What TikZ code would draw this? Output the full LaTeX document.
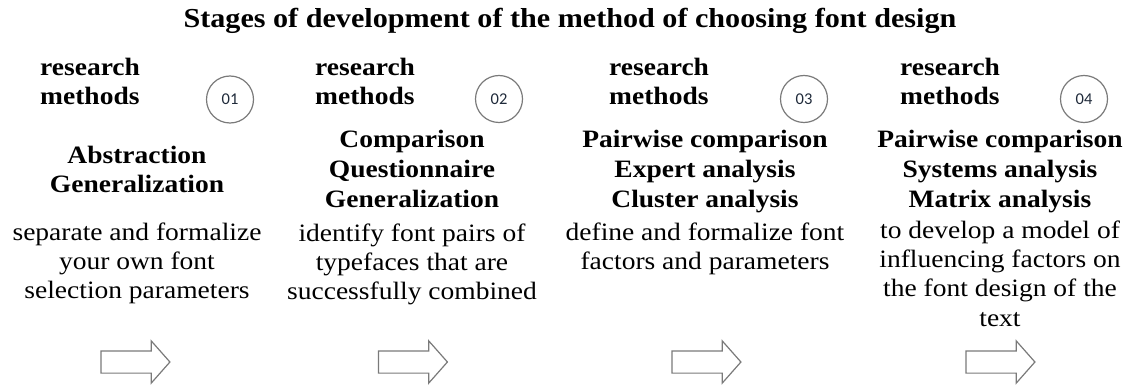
\documentclass[tikz,border=0pt]{standalone}
\usepackage{fontspec}
\setmainfont{Liberation Serif}[FakeStretch=1.1]
\newfontfamily\numfont{Carlito}
\usetikzlibrary{shapes.arrows}
\definecolor{linegray}{HTML}{7A7A7A}
\definecolor{numink}{HTML}{1F2A3A}

\begin{document}
\begin{tikzpicture}[x=1pt,y=-1pt,
  heading/.style={font=\fontsize{27.4}{32}\selectfont\bfseries, anchor=base, inner sep=0},
  rmlabel/.style={font=\fontsize{25}{30}\selectfont\bfseries, anchor=base west, inner sep=0},
  method/.style={font=\fontsize{25}{30}\selectfont\bfseries, anchor=base, inner sep=0},
  desc/.style={font=\fontsize{25}{30}\selectfont, anchor=base, inner sep=0},
  ring/.style={circle, draw=linegray, line width=1.2pt, minimum size=47pt, inner sep=0,
    text=numink, font=\numfont\fontsize{16.5}{16.5}\selectfont},
  flowarrow/.style={single arrow, draw=linegray, line width=1.2pt, fill=white,
    minimum height=69pt, inner xsep=0pt, inner ysep=10.5pt, text height=0pt, text depth=0pt,
    single arrow head extend=10pt, single arrow tip angle=97}
]
\useasboundingbox (0,0) rectangle (1127,385);

% title
\node[heading] (title) at (570,28) {Stages of development of the method of choosing font design};

% stage 1
\node[rmlabel] (s1a) at (40,76) {research};
\node[rmlabel] (s1b) at (40,105) {methods};
\node[ring] (n1) at (230,99.5) {01};
\node[method] (s1m1) at (137,164) {Abstraction};
\node[method] (s1m2) at (137,193) {Generalization};
\node[desc] (s1d1) at (137,240) {separate and formalize};
\node[desc] (s1d2) at (137,269) {your own font};
\node[desc] (s1d3) at (137,298) {selection parameters};
\node[flowarrow] (a1) at (130.5,362) {};

% stage 2
\node[rmlabel] (s2a) at (315,76) {research};
\node[rmlabel] (s2b) at (315,105) {methods};
\node[ring] (n2) at (499,99) {02};
\node[method] (s2m1) at (412,148) {Comparison};
\node[method] (s2m2) at (412,178) {Questionnaire};
\node[method] (s2m3) at (412,207) {Generalization};
\node[desc] (s2d1) at (412,241) {identify font pairs of};
\node[desc] (s2d2) at (412,270) {typefaces that are};
\node[desc] (s2d3) at (412,299) {successfully combined};
\node[flowarrow] (a2) at (408,362) {};

% stage 3
\node[rmlabel] (s3a) at (609,76) {research};
\node[rmlabel] (s3b) at (609,105) {methods};
\node[ring] (n3) at (804,99) {03};
\node[method] (s3m1) at (705,148) {Pairwise comparison};
\node[method] (s3m2) at (705,178) {Expert analysis};
\node[method] (s3m3) at (705,207) {Cluster analysis};
\node[desc] (s3d1) at (705,240) {define and formalize font};
\node[desc] (s3d2) at (705,269) {factors and parameters};
\node[flowarrow] (a3) at (701.5,362) {};

% stage 4
\node[rmlabel] (s4a) at (900,76) {research};
\node[rmlabel] (s4b) at (900,105) {methods};
\node[ring] (n4) at (1084,99) {04};
\node[method] (s4m1) at (1000,148) {Pairwise comparison};
\node[method] (s4m2) at (1000,177) {Systems analysis};
\node[method] (s4m3) at (1000,207) {Matrix analysis};
\node[desc] (s4d1) at (1000,238) {to develop a model of};
\node[desc] (s4d2) at (1000,267) {influencing factors on};
\node[desc] (s4d3) at (1000,296) {the font design of the};
\node[desc] (s4d4) at (1000,326) {text};
\node[flowarrow] (a4) at (995.5,362) {};
\end{tikzpicture}
\end{document}
